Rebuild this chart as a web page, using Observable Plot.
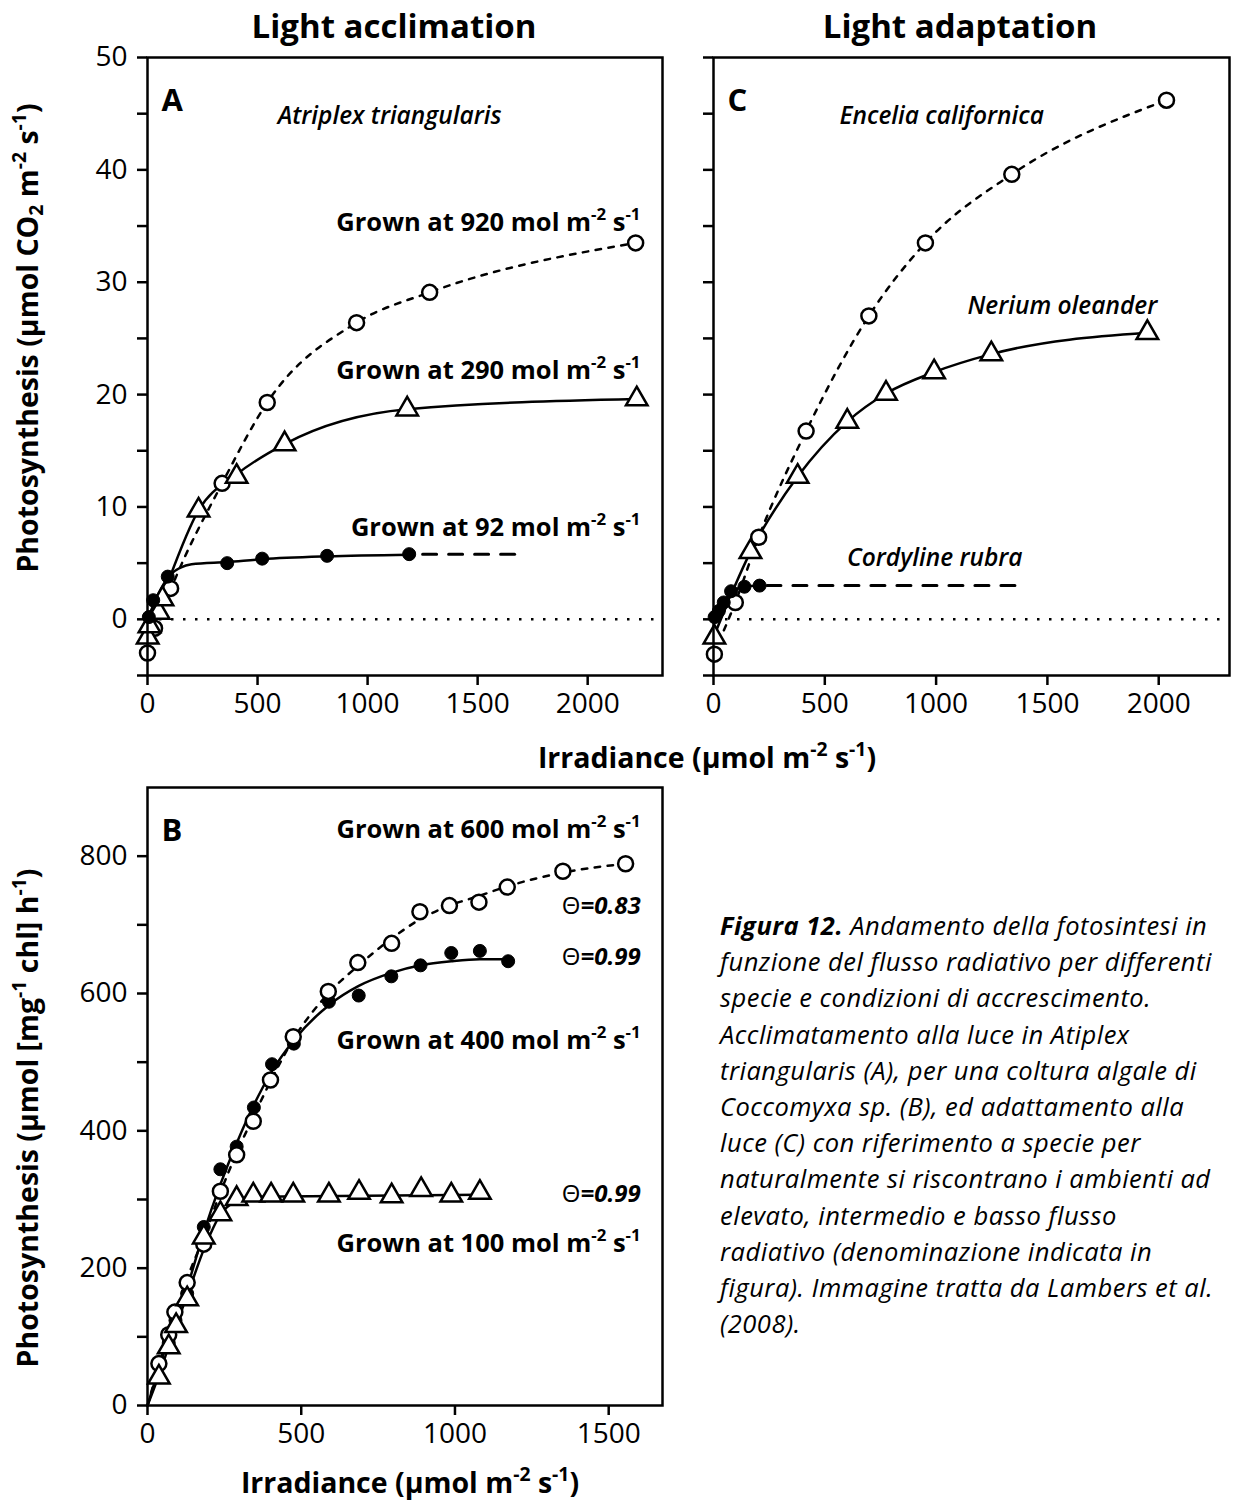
<!DOCTYPE html>
<html>
<head>
<meta charset="utf-8">
<script src="https://cdn.jsdelivr.net/npm/d3@7"></script>
<script src="https://cdn.jsdelivr.net/npm/@observablehq/plot@0.6"></script>
<style>
  body { margin: 0; background: #fff; font-family: "Open Sans", sans-serif; color: #000; }
  #root { position: relative; width: 1233px; height: 1501px; overflow: hidden; background: #fff; }
  .abs { position: absolute; white-space: nowrap; }
  .title { font-weight: 700; font-size: 33px; line-height: 1; transform: translate(-50%, -50%); }
  .axt { font-weight: 700; font-size: 28.5px; line-height: 1; transform: translate(-50%, -50%); }
  .axt.rot { transform: translate(-50%, -50%) rotate(-90deg); }
  sup, sub { font-size: 68%; line-height: 0; }
  sup { vertical-align: 0.6em; }
  sub { vertical-align: -0.25em; }
  .caption { font-style: italic; font-size: 25.5px; letter-spacing: 0.5px; line-height: 36.2px; }
  .caption b { font-weight: 700; }
</style>
</head>
<body>
<div id="root"></div>
<script>
// ---------------- DATA ----------------
// Panel A: Atriplex triangularis (x: irradiance, y: photosynthesis)
const a920 = [[0,-3.0],[32,-0.8],[105,2.75],[339,12.1],[544,19.3],[950,26.4],[1282,29.1],[2218,33.5]];
const a290 = [[1,-1.6],[9,-0.6],[51,0.6],[68,1.8],[232,9.7],[405,12.7],[623,15.6],[1180,18.7],[2223,19.6]];
const a92  = [[6,0.2],[26,1.7],[92,3.8],[362,5.0],[521,5.4],[816,5.65],[1189,5.8]];
const a920Fit = [[0,-3.0],[105,2.6],[339,12.1],[544,19.3],[950,26.4],[1282,29.1],[2218,33.5]];
const a290Fit = [[0,-1.6],[68,2.0],[232,9.7],[405,12.9],[623,15.6],[1180,18.7],[2223,19.6]];
const a92Fit  = [[0,0.0],[50,2.3],[100,3.9],[150,4.6],[200,4.9],[362,5.1],[521,5.35],[816,5.6],[1189,5.75]];
const a92Ext  = [[1250,5.8],[1710,5.8]];

// Panel C: light adaptation
const cEncelia   = [[4,-3.1],[98,1.5],[203,7.3],[416,16.75],[698,27.0],[952,33.5],[1340,39.6],[2035,46.2]];
const cNerium    = [[4,-1.6],[166,6.0],[378,12.7],[601,17.6],[775,20.1],[991,22.0],[1248,23.6],[1949,25.5]];
const cCordyline = [[5,0.2],[24,0.75],[46,1.5],[79,2.5],[139,2.9],[207,3.0]];
const cEnceliaFit   = [[0,-3.1],[98,1.5],[203,7.3],[416,16.75],[698,27.0],[952,33.5],[1340,39.6],[2035,46.2]];
const cNeriumFit    = [[0,-1.6],[166,6.0],[378,12.7],[601,17.6],[775,20.1],[991,22.0],[1248,23.6],[1949,25.5]];
const cCordylineFit = [[0,0.0],[24,0.8],[46,1.5],[79,2.4],[139,2.9],[207,3.0]];
const cCordylineExt = [[240,3.0],[1382,3.0]];

// Panel B: Coccomyxa sp.
const b600 = [[37,61],[69,103],[89,136],[129,179],[183,235],[237,312],[290,365],[344,414],[400,474],[474,537],[588,603],[684,645],[794,673],[886,719],[982,728],[1078,733],[1170,755],[1351,778],[1555,789]];
const b400 = [[69,91],[91,124],[129,163],[183,260],[237,344],[290,377],[346,434],[405,497],[476,527],[590,588],[687,597],[793,625],[888,641],[988,659],[1081,662],[1173,647]];
const b100 = [[37,41],[69,85],[93,116],[129,155],[183,245],[237,279],[290,301],[344,306],[402,306],[474,306],[590,306],[688,310],[794,305],[890,314],[988,306],[1081,310]];
const b600Fit = [[0,0],[37,58],[89,133],[129,185],[183,245],[237,310],[290,368],[344,420],[400,472],[474,533],[588,600],[684,640],[794,680],[886,708],[982,728],[1078,742],[1170,756],[1351,776],[1555,789]];
const b400Fit = [[0,0],[69,98],[129,172],[183,252],[237,322],[290,382],[346,438],[405,487],[476,532],[590,583],[687,611],[793,630],[888,641],[988,647],[1081,650],[1173,650]];
const b100Fit = [[0,0],[37,44],[69,86],[93,117],[129,160],[183,227],[237,278],[290,298],[344,304],[1081,307]];

// Tick values
const xTicksTop = [0, 500, 1000, 1500, 2000];
const yTicksTop = [-5, 0, 5, 10, 15, 20, 25, 30, 35, 40, 45, 50];
const xTicksB = [0, 500, 1000, 1500];
const yTicksB = [0, 100, 200, 300, 400, 500, 600, 700, 800];

// ---------------- HELPERS ----------------
const X = d => d[0], Y = d => d[1];
const SW = 2.5;
const TICK_FS = 28;
const lineOpts = (extra) => Object.assign({x: X, y: Y, curve: "monotone-x", strokeWidth: SW, stroke: "black"}, extra || {});
const openCircle = data => Plot.dot(data, {x: X, y: Y, r: 7.5, fill: "white", stroke: "black", strokeWidth: SW});
const filledDot  = data => Plot.dot(data, {x: X, y: Y, r: 6.5, fill: "black", stroke: "black", strokeWidth: 1});
const openTri    = data => Plot.dot(data, {x: X, y: Y, symbol: "triangle", r: 8, fill: "white", stroke: "black", strokeWidth: SW});
const label = (txt, x, y, o) => Plot.text([txt], Object.assign({x, y, text: d => d, fontSize: 25.5, fontWeight: "bold", textAnchor: "end"}, o || {}));
const species = (txt, x, y) => Plot.text([txt], {x, y, text: d => d, fontSize: 24.5, fontWeight: 600, fontStyle: "italic", textAnchor: "middle"});
const letter = (txt) => Plot.text([txt], {frameAnchor: "top-left", text: d => d, dx: 14, dy: 31, fontSize: 31, fontWeight: "bold", textAnchor: "start"});
const plain = d => String(d);

const baseStyle = {fontFamily: "'Open Sans', sans-serif", fontSize: TICK_FS + "px", color: "black", background: "transparent", overflow: "visible"};

function richify(root) {
  const ns = "http://www.w3.org/2000/svg";
  root.querySelectorAll("text").forEach(t => {
    if (t.children.length) return;
    const s = t.textContent;
    if (!/[\^_*]\{/.test(s)) return;
    t.textContent = "";
    const re = /([\^_*])\{([^}]*)\}/g;
    let last = 0, m;
    const add = (str) => { const sp = document.createElementNS(ns, "tspan"); sp.textContent = str; t.appendChild(sp); return sp; };
    while ((m = re.exec(s))) {
      if (m.index > last) add(s.slice(last, m.index));
      const sp = add(m[2]);
      if (m[1] === "^") { sp.setAttribute("baseline-shift", "super"); sp.setAttribute("font-size", "66%"); }
      else if (m[1] === "_") { sp.setAttribute("baseline-shift", "sub"); sp.setAttribute("font-size", "66%"); }
      else { sp.setAttribute("font-weight", "bold"); sp.setAttribute("font-style", "italic"); }
      last = re.lastIndex;
    }
    if (last < s.length) add(s.slice(last));
  });
}

const root = document.getElementById("root");
function place(node, left, top) {
  node.style.position = "absolute";
  node.style.left = left + "px";
  node.style.top = top + "px";
  richify(node);
  root.appendChild(node);
}

// ---------------- PANEL A ----------------
const plotA = Plot.plot({
  width: 680, height: 720,
  marginLeft: 147, marginTop: 57, marginRight: 18, marginBottom: 45,
  style: baseStyle,
  x: {domain: [0, 2340]},
  y: {domain: [-5, 50]},
  marks: [
    Plot.ruleY([0], {strokeDasharray: "2.5,9.5", strokeWidth: SW}),
    Plot.line(a920Fit, lineOpts({strokeDasharray: "5.5,7.5"})),
    Plot.line(a290Fit, lineOpts()),
    Plot.line(a92Fit, lineOpts()),
    Plot.line(a92Ext, lineOpts({strokeDasharray: "14,12", strokeWidth: 3})),
    openCircle(a920),
    openTri(a290),
    filledDot(a92),
    Plot.frame({strokeWidth: SW}),
    Plot.axisX({ticks: xTicksTop, tickSize: 10, tickPadding: 8, strokeWidth: SW, label: null, fontSize: TICK_FS, tickFormat: plain}),
    Plot.axisY({ticks: yTicksTop, tickSize: 10, tickPadding: 10, strokeWidth: SW, label: null, fontSize: TICK_FS, tickFormat: d => (d % 10 === 0 ? String(d) : "")}),
    letter("A"),
    species("Atriplex triangularis", 1100, 44.8),
    label("Grown at 920 mol m^{-2} s^{-1}", 2240, 35.3),
    label("Grown at 290 mol m^{-2} s^{-1}", 2240, 22.15),
    label("Grown at 92 mol m^{-2} s^{-1}", 2240, 8.1)
  ]
});
place(plotA, 0, 0);

// ---------------- PANEL C ----------------
const plotC = Plot.plot({
  width: 553, height: 720,
  marginLeft: 33, marginTop: 57, marginRight: 4, marginBottom: 45,
  style: baseStyle,
  x: {domain: [0, 2318]},
  y: {domain: [-5, 50]},
  marks: [
    Plot.ruleY([0], {strokeDasharray: "2.5,9.5", strokeWidth: SW}),
    Plot.line(cEnceliaFit, lineOpts({strokeDasharray: "5.5,7.5"})),
    Plot.line(cNeriumFit, lineOpts()),
    Plot.line(cCordylineFit, lineOpts()),
    Plot.line(cCordylineExt, lineOpts({strokeDasharray: "14,12", strokeWidth: 3})),
    openCircle(cEncelia),
    openTri(cNerium),
    filledDot(cCordyline),
    Plot.frame({strokeWidth: SW}),
    Plot.axisX({ticks: xTicksTop, tickSize: 10, tickPadding: 8, strokeWidth: SW, label: null, fontSize: TICK_FS, tickFormat: plain}),
    Plot.axisY({ticks: yTicksTop, tickSize: 10, strokeWidth: SW, label: null, tickFormat: () => ""}),
    letter("C"),
    species("Encelia californica", 1025, 44.8),
    species("Nerium oleander", 1567, 27.9),
    species("Cordyline rubra", 994, 5.4)
  ]
});
place(plotC, 680, 0);

// ---------------- PANEL B ----------------
const plotB = Plot.plot({
  width: 680, height: 741,
  marginLeft: 147, marginTop: 27, marginRight: 18, marginBottom: 96,
  style: baseStyle,
  x: {domain: [0, 1675]},
  y: {domain: [0, 900]},
  marks: [
    Plot.line(b600Fit, lineOpts({strokeDasharray: "5.5,7.5"})),
    Plot.line(b400Fit, lineOpts()),
    Plot.line(b100Fit, lineOpts()),
    filledDot(b400),
    openCircle(b600),
    openTri(b100),
    Plot.frame({strokeWidth: SW}),
    Plot.axisX({ticks: xTicksB, tickSize: 10, tickPadding: 8, strokeWidth: SW, label: null, fontSize: TICK_FS, tickFormat: plain}),
    Plot.axisY({ticks: yTicksB, tickSize: 10, tickPadding: 10, strokeWidth: SW, label: null, fontSize: TICK_FS, tickFormat: d => (d % 200 === 0 ? String(d) : "")}),
    letter("B"),
    label("Grown at 600 mol m^{-2} s^{-1}", 1604, 839),
    label("Θ*{=0.83}", 1604, 727, {fontWeight: "normal", fontSize: 24}),
    label("Θ*{=0.99}", 1604, 652, {fontWeight: "normal", fontSize: 24}),
    label("Grown at 400 mol m^{-2} s^{-1}", 1604, 531),
    label("Θ*{=0.99}", 1604, 308, {fontWeight: "normal", fontSize: 24}),
    label("Grown at 100 mol m^{-2} s^{-1}", 1604, 236)
  ]
});
place(plotB, 0, 760);

// ---------------- HTML TEXT ----------------
function html(cls, left, top, inner) {
  const d = document.createElement("div");
  d.className = "abs " + cls;
  d.style.left = left + "px";
  d.style.top = top + "px";
  d.innerHTML = inner;
  root.appendChild(d);
  return d;
}
html("title", 394, 25, "Light acclimation");
html("title", 960, 25, "Light adaptation");
html("axt rot", 27, 338, "Photosynthesis (µmol CO<sub>2</sub> m<sup>-2</sup> s<sup>-1</sup>)");
html("axt", 707, 757, "Irradiance (µmol m<sup>-2</sup> s<sup>-1</sup>)");
html("axt rot", 27, 1118, "Photosynthesis (µmol [mg<sup>-1</sup> chl] h<sup>-1</sup>)");
html("axt", 410, 1482, "Irradiance (µmol m<sup>-2</sup> s<sup>-1</sup>)");

const captionLines = [
  "<b>Figura 12.</b> Andamento della fotosintesi in",
  "funzione del flusso radiativo per differenti",
  "specie e condizioni di accrescimento.",
  "Acclimatamento alla luce in Atiplex",
  "triangularis (A), per una coltura algale di",
  "Coccomyxa sp. (B), ed adattamento alla",
  "luce (C) con riferimento a specie per",
  "naturalmente si riscontrano i ambienti ad",
  "elevato, intermedio e basso flusso",
  "radiativo (denominazione indicata in",
  "figura). Immagine tratta da Lambers et al.",
  "(2008)."
];
html("caption", 720, 907, captionLines.join("<br>"));
</script>
</body>
</html>
